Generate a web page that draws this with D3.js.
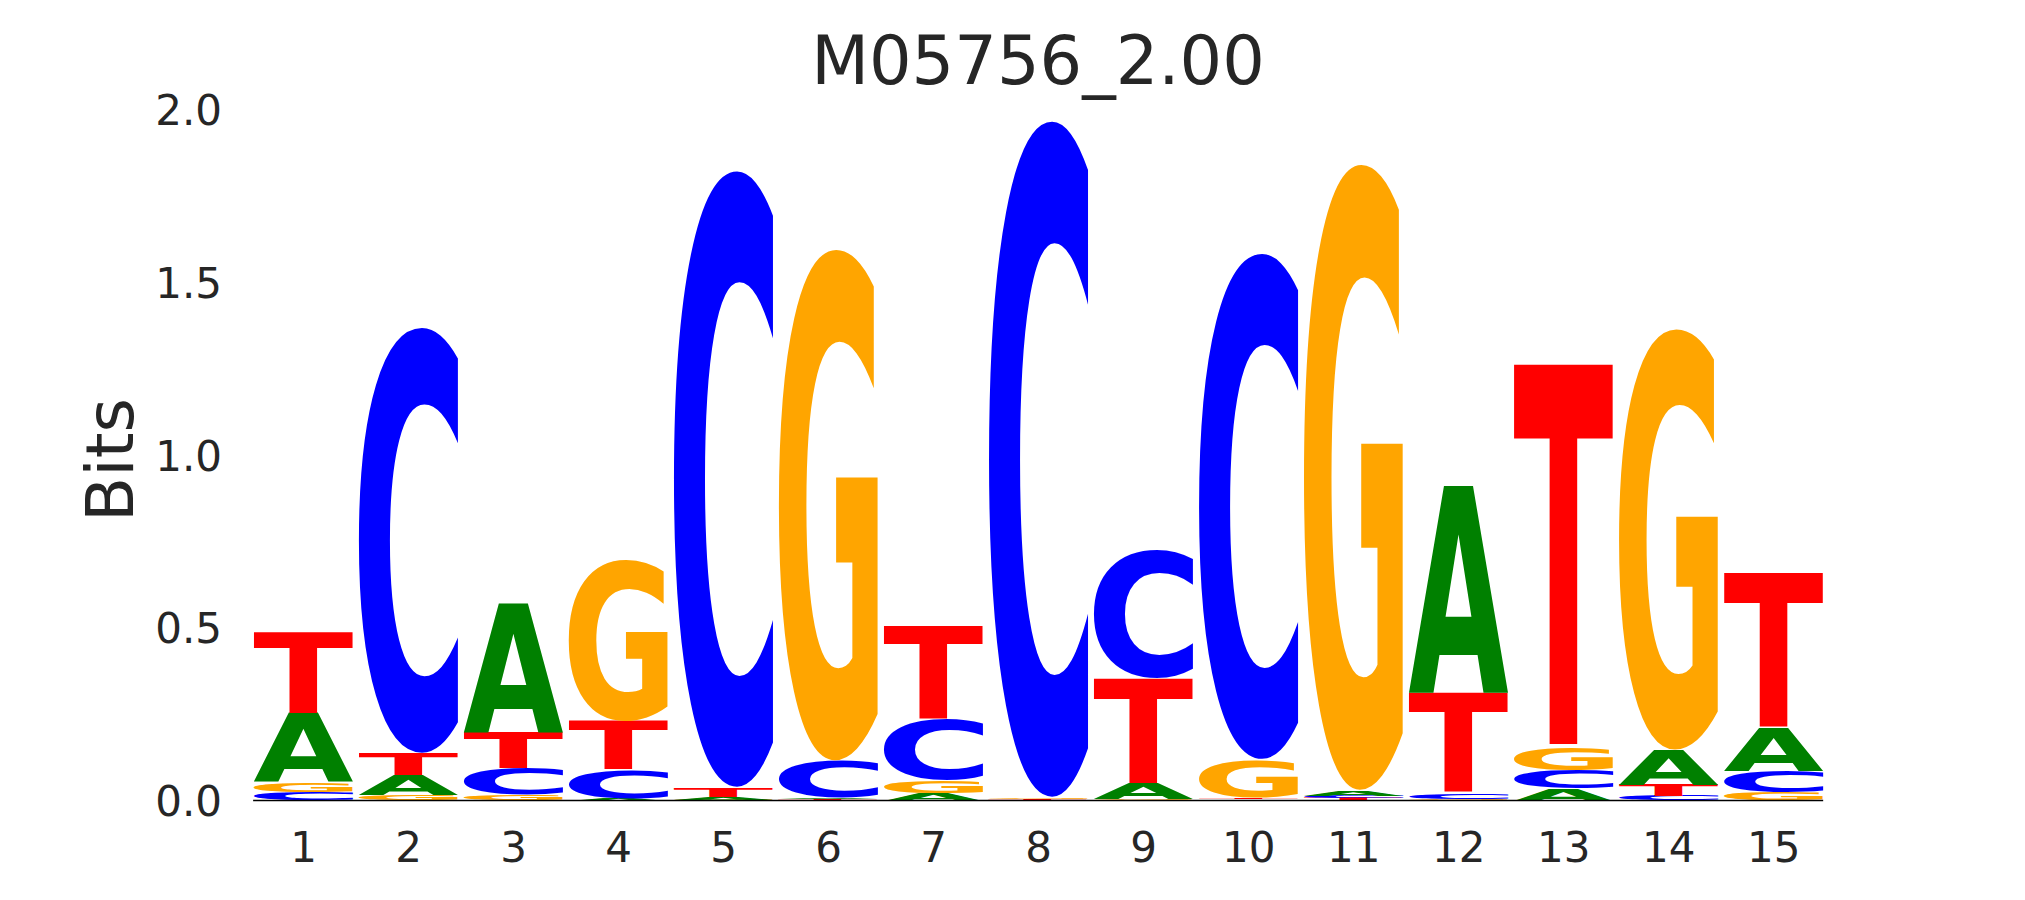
<!DOCTYPE html>
<html>
<head>
<meta charset="utf-8">
<script src="https://cdn.jsdelivr.net/npm/d3@7"></script>
<style>
  html, body { margin: 0; padding: 0; background: #ffffff; }
  svg { display: block; }
</style>
</head>
<body>
<svg id="chart" width="2025" height="900"></svg>
<script>
// ---------------- data ----------------
const title = "M05756_2.00";
const yLabel = "Bits";
const positions = [1, 2, 3, 4, 5, 6, 7, 8, 9, 10, 11, 12, 13, 14, 15];
const bases = ["A", "C", "G", "T"];
const valuesA = [0.200, 0.056, 0.374, 0.007, 0.008, 0.004, 0.022, 0.002, 0.045, 0.003, 0.016, 0.599, 0.035, 0.100, 0.124];
const valuesC = [0.024, 1.235, 0.077, 0.082, 1.789, 0.108, 0.178, 1.963, 0.372, 1.468, 0.007, 0.017, 0.053, 0.014, 0.063];
const valuesG = [0.029, 0.016, 0.016, 0.466, 0.002, 1.484, 0.036, 0.005, 0.004, 0.111, 1.817, 0.005, 0.068, 1.222, 0.022];
const valuesT = [0.235, 0.065, 0.106, 0.141, 0.028, 0.003, 0.270, 0.002, 0.304, 0.005, 0.006, 0.290, 1.107, 0.032, 0.447];
const yTicks = [0.0, 0.5, 1.0, 1.5, 2.0];
const xTickLabels = ["1","2","3","4","5","6","7","8","9","10","11","12","13","14","15"];

const colors = { A: "#008000", C: "#0000ff", G: "#ffa500", T: "#ff0000" };
const seriesByBase = { A: valuesA, C: valuesC, G: valuesG, T: valuesT };

// ---------------- layout ----------------
const svg = d3.select("#chart");
const x = d3.scaleLinear().domain([0.5, 15.5]).range([250.5, 1825.8]);
const y = d3.scaleLinear().domain([0, 2]).range([800.5, 109.5]);
const letterWidth = 0.95;
const textColor = "#262626";
const fontFamily = "'DejaVu Sans', 'Liberation Sans', sans-serif";

// measure tight glyph bounds with canvas
const canvas = document.createElement("canvas");
const ctx = canvas.getContext("2d");
const glyphFontSize = 200;
ctx.font = `bold ${glyphFontSize}px 'DejaVu Sans'`;
const glyphBounds = {};
bases.forEach(b => {
  const m = ctx.measureText(b);
  glyphBounds[b] = {
    L: m.actualBoundingBoxLeft,
    R: m.actualBoundingBoxRight,
    A: m.actualBoundingBoxAscent,
    D: m.actualBoundingBoxDescent
  };
});

// build stacks
const stacks = positions.map((p, i) => {
  const items = bases.map(b => ({ base: b, value: seriesByBase[b][i] }))
    .sort((a, b) => a.value - b.value);
  let cum = 0;
  items.forEach(it => { it.y0 = cum; cum += it.value; it.y1 = cum; it.pos = p; });
  return items;
});

const gLetters = svg.append("g").attr("class", "letters");
stacks.forEach(items => {
  items.forEach(it => {
    if (it.value <= 0) return;
    const gb = glyphBounds[it.base];
    const bx = x(it.pos - letterWidth / 2);
    const bw = x(it.pos + letterWidth / 2) - bx;
    const by = y(it.y1);
    const bh = y(it.y0) - by;
    const sx = bw / (gb.L + gb.R);
    const sy = bh / (gb.A + gb.D);
    gLetters.append("text")
      .attr("x", 0).attr("y", 0)
      .attr("font-family", fontFamily)
      .attr("font-weight", "bold")
      .attr("font-size", glyphFontSize)
      .attr("fill", colors[it.base])
      .attr("transform", `translate(${bx},${by}) scale(${sx},${sy}) translate(${gb.L},${gb.A})`)
      .text(it.base);
  });
});

// baseline
svg.append("line")
  .attr("x1", x(1 - letterWidth / 2)).attr("x2", x(15 + letterWidth / 2))
  .attr("y1", y(0)).attr("y2", y(0))
  .attr("stroke", "#000000").attr("stroke-width", 1.5);

// y axis (labels only)
const yAxis = d3.axisLeft(y).tickValues(yTicks).tickFormat(d3.format(".1f")).tickSize(0).tickPadding(0);
const gy = svg.append("g").attr("transform", "translate(222,0)").call(yAxis);
gy.select(".domain").remove();
gy.selectAll("text")
  .attr("font-family", fontFamily).attr("font-size", 42).attr("fill", textColor)
  .attr("dy", "0.36em");

// x axis (labels only)
const xAxis = d3.axisBottom(x).tickValues(positions).tickFormat((d, i) => xTickLabels[i]).tickSize(0).tickPadding(0);
const gx = svg.append("g").attr("transform", "translate(0,832)").call(xAxis);
gx.select(".domain").remove();
gx.selectAll("text")
  .attr("font-family", fontFamily).attr("font-size", 42).attr("fill", textColor)
  .attr("dy", "0.71em");

// title
svg.append("text")
  .attr("x", 1038).attr("y", 84)
  .attr("text-anchor", "middle")
  .attr("font-family", fontFamily).attr("font-size", 67).attr("fill", textColor)
  .text(title);

// y label
svg.append("text")
  .attr("transform", "translate(133,460) rotate(-90)")
  .attr("text-anchor", "middle")
  .attr("font-family", fontFamily).attr("font-size", 66).attr("fill", textColor)
  .text(yLabel);
</script>
</body>
</html>
